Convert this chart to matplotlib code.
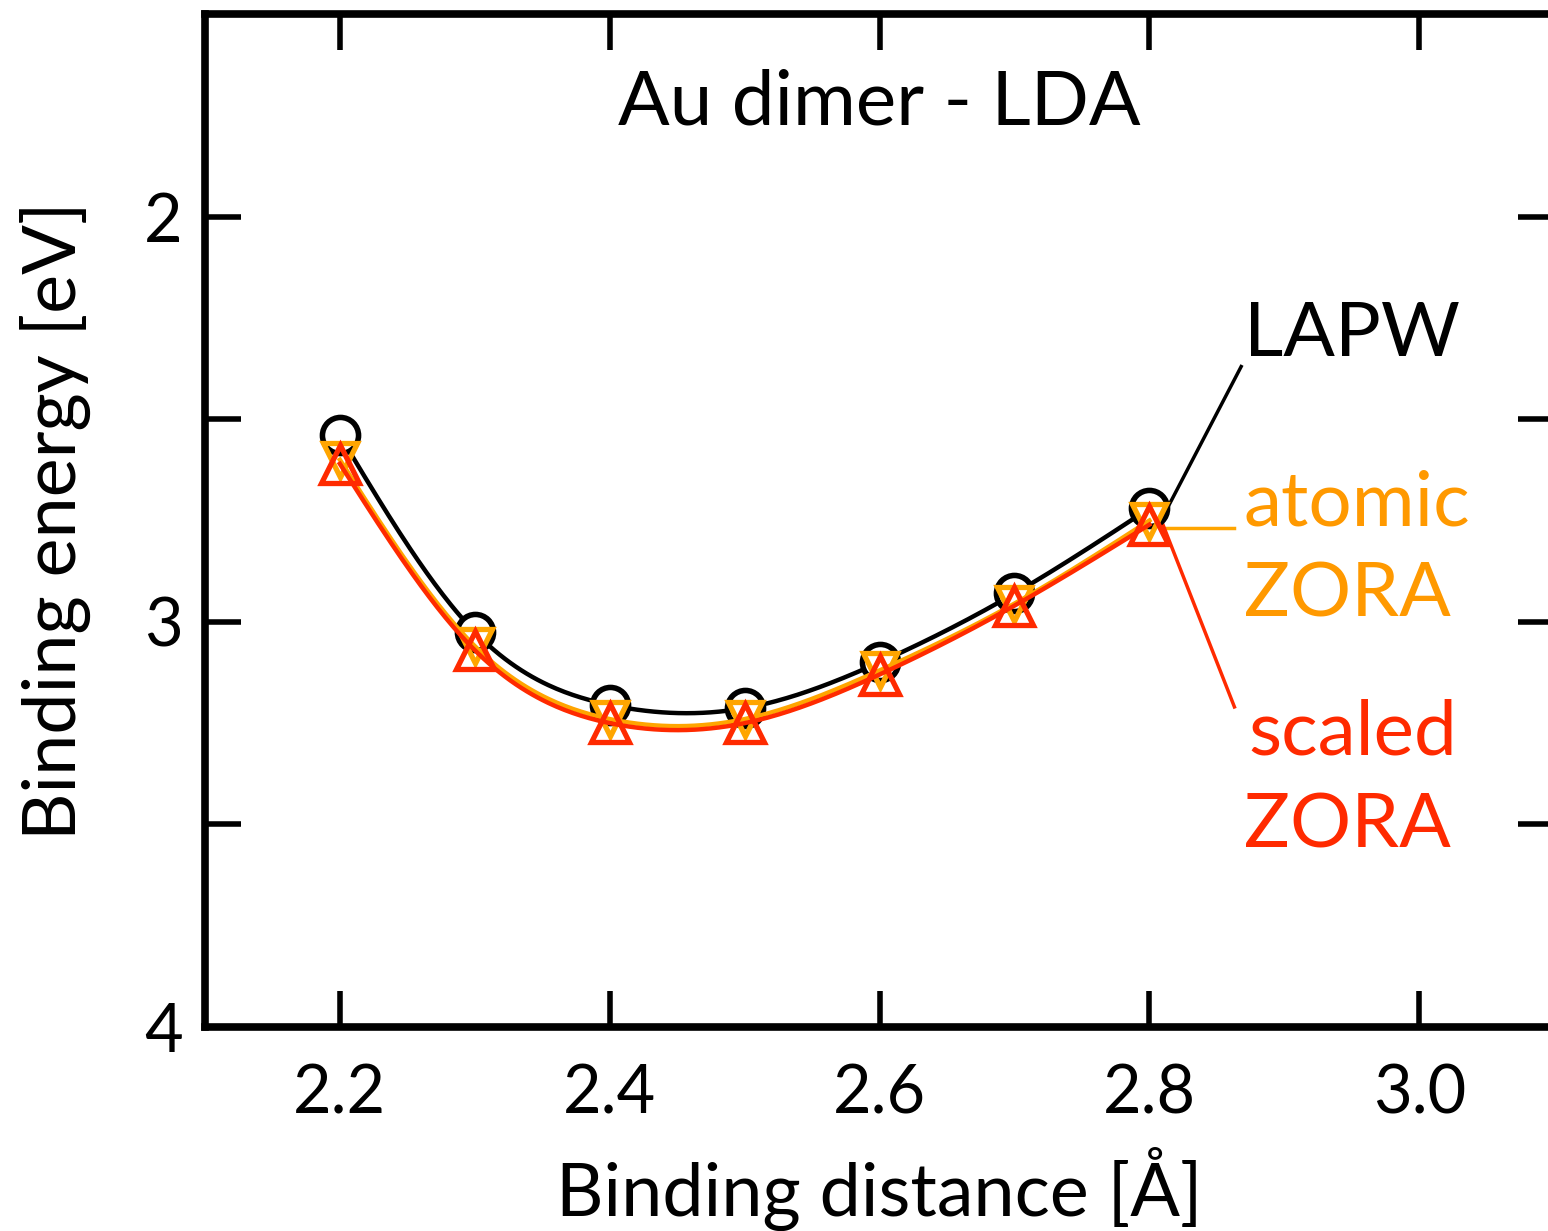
import numpy as np
import matplotlib
matplotlib.use("Agg")
import matplotlib.pyplot as plt

plt.rcParams['font.family'] = ['Lato', 'DejaVu Sans']

# binding distance (Angstrom) and binding energy (eV)
distance = [2.2, 2.3, 2.4, 2.5, 2.6, 2.7, 2.8]
lapw = [2.54, 3.025, 3.205, 3.213, 3.10, 2.93, 2.72]
atomic_zora = [2.60, 3.06, 3.24, 3.24, 3.12, 2.955, 2.75]
scaled_zora = [2.61, 3.07, 3.25, 3.25, 3.13, 2.96, 2.76]

x_ticks = [2.2, 2.4, 2.6, 2.8, 3.0]
x_labels = ['2.2', '2.4', '2.6', '2.8', '3.0']
y_ticks = [2, 2.5, 3, 3.5, 4]
y_labels = ['2', '', '3', '', '4']


def smooth(x, y, n=300):
    # natural cubic spline through the points, just for drawing the curve
    x = np.asarray(x, float)
    y = np.asarray(y, float)
    k = len(x)
    h = np.diff(x)
    A = np.zeros((k, k))
    b = np.zeros(k)
    A[0, 0] = A[-1, -1] = 1
    for i in range(1, k - 1):
        A[i, i - 1] = h[i - 1]
        A[i, i] = 2 * (h[i - 1] + h[i])
        A[i, i + 1] = h[i]
        b[i] = 6 * ((y[i + 1] - y[i]) / h[i] - (y[i] - y[i - 1]) / h[i - 1])
    M = np.linalg.solve(A, b)
    xs = np.linspace(x[0], x[-1], n)
    idx = np.clip(np.searchsorted(x, xs) - 1, 0, k - 2)
    x0, x1 = x[idx], x[idx + 1]
    hh = x1 - x0
    t0, t1 = x1 - xs, xs - x0
    ys = (M[idx] * t0**3 + M[idx + 1] * t1**3) / (6 * hh) \
        + (y[idx] / hh - M[idx] * hh / 6) * t0 \
        + (y[idx + 1] / hh - M[idx + 1] * hh / 6) * t1
    return xs, ys


black = 'black'
orange = '#FFA500'
red = '#FF2A00'

fig = plt.figure(figsize=(15.48, 12.31), dpi=100)
ax = fig.add_axes([0.1324, 0.1657, 0.8716, 0.8229])

xs, ys = smooth(distance, lapw)
ax.plot(xs, ys, color=black, lw=3.2, zorder=2)
ax.plot(distance, lapw, 'o', ms=26, mfc='white', mec=black, mew=4, zorder=3)

xs, ys = smooth(distance, atomic_zora)
ax.plot(xs, ys, color=orange, lw=3.2, zorder=4)
ax.plot(distance, atomic_zora, 'v', ms=24, mfc='none', mec=orange, mew=3.8, zorder=5)

xs, ys = smooth(distance, scaled_zora)
ax.plot(xs, ys, color=red, lw=3.2, zorder=6)
ax.plot(distance, scaled_zora, '^', ms=27, mfc='none', mec=red, mew=3.8, zorder=7)

# label lines
ax.plot([2.814, 2.868], [2.715, 2.37], color=black, lw=2.5, zorder=1)
ax.plot([2.81, 2.863], [2.768, 2.768], color=orange, lw=2.5, zorder=1)
ax.plot([2.81, 2.863], [2.76, 3.21], color=red, lw=2.5, zorder=1)

fs = 55
ax.text(2.87, 2.29, 'LAPW', color=black, fontsize=fs, ha='left', va='center')
ax.text(2.87, 2.71, 'atomic', color='#FF9900', fontsize=fs, ha='left', va='center')
ax.text(2.87, 2.935, 'ZORA', color='#FF9900', fontsize=fs, ha='left', va='center')
ax.text(2.9505, 3.275, 'scaled', color=red, fontsize=fs, ha='center', va='center')
ax.text(2.87, 3.505, 'ZORA', color=red, fontsize=fs, ha='left', va='center')

ax.text(0.5, 0.912, 'Au dimer - LDA', transform=ax.transAxes, fontsize=55,
        ha='center', va='center')

ax.set_xlim(2.1, 3.1)
ax.set_ylim(4, 1.5)
ax.set_xticks(x_ticks)
ax.set_xticklabels(x_labels)
ax.set_yticks(y_ticks)
ax.set_yticklabels(y_labels)
ax.tick_params(direction='in', length=26, width=4, labelsize=48,
               top=True, right=True)
ax.tick_params(axis='x', pad=26)
ax.tick_params(axis='y', pad=16)

for s in ax.spines.values():
    s.set_linewidth(5.5)

ax.set_xlabel('Binding distance [Å]', fontsize=53, labelpad=16)
ax.set_ylabel('Binding energy [eV]', fontsize=53, labelpad=38)

fig.savefig('out.png', dpi=100)
